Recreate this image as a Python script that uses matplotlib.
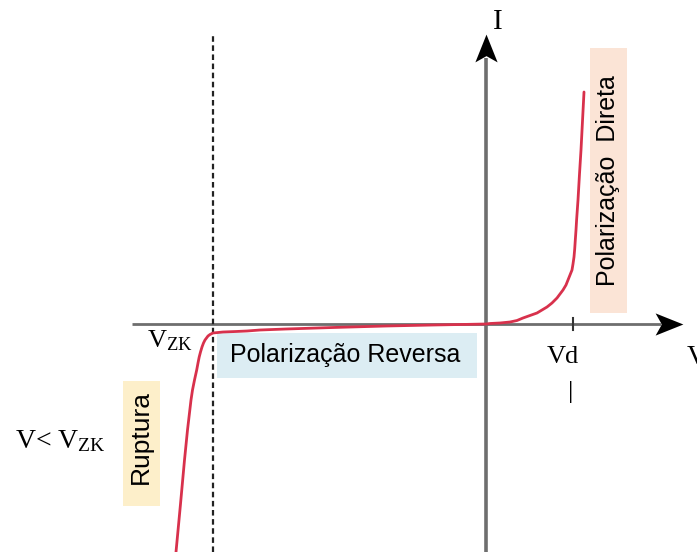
import matplotlib
matplotlib.use("Agg")
import matplotlib.pyplot as plt
from matplotlib.patches import Rectangle
from matplotlib.path import Path

plt.rcParams['mathtext.fontset'] = 'custom'
plt.rcParams['mathtext.rm'] = 'Liberation Serif'
plt.rcParams['mathtext.it'] = 'Liberation Serif:italic'

# Diode I-V characteristic (arbitrary units, origin at axis crossing)
voltage = [-310, -305.5, -301.5, -298.5, -295, -293.5, -291.5, -289.3, -288, -286.8, -285.5, -284,
           -282.5, -281, -279.5, -278, -276, -273, -268, -263, -250, -239, -226,
           -200, -153, -100, -53, -20, 0, 4, 14, 24, 31, 37, 44, 51, 56, 61, 66,
           71, 74, 77, 80, 82, 84, 86, 87, 88, 88.7, 89.3, 90, 90.6, 91.3, 92, 93.5, 95, 96.5, 98]
current = [-228, -180, -136, -106, -76, -66, -56, -46, -39, -33, -28, -23,
           -19, -16, -14, -12, -10.5, -9, -8.5, -8, -7.5, -7, -6,
           -5, -3.5, -2, -1, -0.4, 0, 0.5, 1, 2, 3.5, 6, 8.5, 11, 14, 17, 21,
           26, 30, 34, 39, 44, 49, 54, 60, 67, 75, 84, 94, 104, 114, 124, 150, 174, 203, 232]
v_zk = -273     # breakdown voltage position
v_d = 87        # forward voltage tick

labels = {
    'reverse': 'Polarização Reversa',
    'forward': 'Polarização  Direta',
    'breakdown': 'Ruptura',
}

fig = plt.figure(figsize=(6.97, 5.52), dpi=100)
ax = fig.add_axes([0, 0, 1, 1])
ax.set_xlim(-486, 211)
ax.set_ylim(-228, 324)
ax.axis('off')

sans = 'Liberation Sans'
serif = 'Liberation Serif'
axis_gray = '#6e6e6e'

# colored label boxes
ax.add_patch(Rectangle((-269, -54), 260, 45, facecolor='#dcedf3', edgecolor='none', zorder=1))
ax.add_patch(Rectangle((104, 11), 37, 265, facecolor='#fbe4d6', edgecolor='none', zorder=1))
ax.add_patch(Rectangle((-363, -182), 37, 125, facecolor='#fdefca', edgecolor='none', zorder=1))

# axes
ax.plot([-354, 175], [0, 0], color=axis_gray, lw=2.0, zorder=2, solid_capstyle='butt')
ax.plot([0, 0], [-228, 266], color=axis_gray, lw=2.6, zorder=2, solid_capstyle='butt')

# stealth-like arrow heads
head_right = Path([(1, 0), (-1, 0.8), (-0.55, 0), (-1, -0.8), (1, 0)],
                  [Path.MOVETO, Path.LINETO, Path.LINETO, Path.LINETO, Path.CLOSEPOLY])
head_up = Path([(0, 1), (0.8, -1), (0, -0.55), (-0.8, -1), (0, 1)],
               [Path.MOVETO, Path.LINETO, Path.LINETO, Path.LINETO, Path.CLOSEPOLY])
ax.plot([183], [0], marker=head_right, ms=20, color='black', mew=0, zorder=3)
ax.plot([0], [276], marker=head_up, ms=20, color='black', mew=0, zorder=3)

# Vd tick
ax.plot([v_d, v_d], [-6, 6], color='#333333', lw=1.5, zorder=2)

# breakdown dashed line
ax.plot([v_zk, v_zk], [-228, 291], color='#222222', lw=1.6, ls=(0, (2.5, 1.6)), zorder=2)

# curve
ax.plot(voltage, current, color='#d8314c', lw=2.0, zorder=4,
        solid_capstyle='round', solid_joinstyle='round')

# texts
ax.text(-141, -31, labels['reverse'], family=sans, fontsize=18, ha='center', va='center', zorder=5)
ax.text(122, 143, labels['forward'], family=sans, fontsize=18, rotation=90,
        ha='center', va='center', zorder=5)
ax.text(-345, -113, labels['breakdown'], family=sans, fontsize=19, rotation=90,
        ha='center', va='center', zorder=5)

ax.text(12, 302, 'I', family=serif, fontsize=21, ha='center', va='center')
ax.text(201, -33, 'V', family=serif, fontsize=20, ha='left', va='center')
ax.text(77, -33, 'Vd', family=serif, fontsize=19, ha='center', va='center')
ax.text(85, -68, '|', family=serif, fontsize=19, ha='center', va='center')
ax.text(-316, -23, r'$\mathrm{V}_{\mathrm{ZK}}$', fontsize=19, ha='center', va='baseline')
ax.text(-426, -124, r'V< $\mathrm{V}_{\mathrm{ZK}}$', family=serif, fontsize=20,
        ha='center', va='baseline')

fig.savefig('out.png', dpi=100)
